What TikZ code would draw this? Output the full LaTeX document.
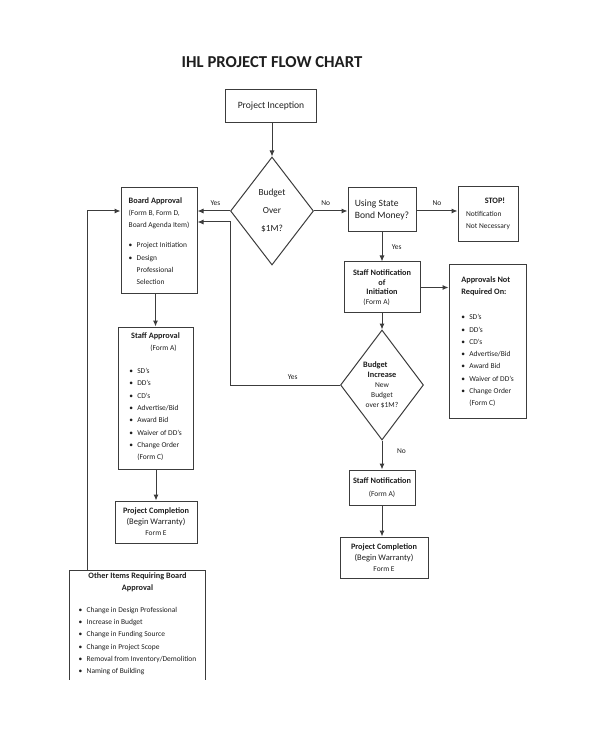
\documentclass[tikz,border=0pt]{standalone}
\usepackage{fontspec}
\setmainfont{Carlito}
\usetikzlibrary{arrows.meta,shapes.geometric}

\definecolor{linegray}{HTML}{3C3C3C}
\definecolor{inkgray}{HTML}{1E1E1E}
\newcommand\itm{\makebox[6pt][l]{\textbullet}}
\newcommand\blist[1]{\begin{tabular}[t]{@{}l@{}}#1\end{tabular}}
\newcommand\head[1]{{\bfseries\fontsize{6.2}{8}\selectfont #1}}

\tikzset{
  box/.style 2 args={draw=linegray, line width=0.75pt, inner sep=0pt,
    minimum width=#1*0.75pt, minimum height=#2*0.75pt,
    text=inkgray, font=\fontsize{5.6}{9.2}\selectfont, align=center},
  dia/.style 2 args={draw=linegray, line width=0.75pt, diamond, inner sep=0pt,
    minimum width=#1*0.75pt, minimum height=#2*0.75pt},
  arr/.style={draw=linegray, line width=0.75pt, -{Latex[length=4.5pt,width=3.8pt]}},
  lbl/.style={text=inkgray, font=\fontsize{5.6}{6}\selectfont, inner sep=1pt}
}

\begin{document}
\begin{tikzpicture}[x=0.75pt, y=-0.75pt]
\useasboundingbox (0,0) rectangle (600,730);

\node[text=inkgray, font=\bfseries\fontsize{12.5}{14}\selectfont] (title) at (272,62) {IHL PROJECT FLOW CHART};

% top row
\node[box={91}{33}, font=\fontsize{7.2}{9}\selectfont] (incep) at (271,106.5) {Project Inception};
\node[dia={83}{108}] (d1) at (272,211) {};
\node[text=inkgray, align=center, font=\fontsize{7}{13.5}\selectfont] (d1txt) at (d1) {Budget\\Over\\\$1M?};
\node[box={68}{44}, align=left, font=\fontsize{7.2}{9}\selectfont] (bond) at (382,210) {Using State\\Bond Money?};
\node[box={60}{55}, align=left] (stop) at (488,214) {\hspace*{14pt}\head{STOP!}\\Notification\\Not Necessary};

% left column
\node[box={76}{106}, align=left] (board) at (159,241)
  {\head{Board Approval}\\(Form B, Form D,\\Board Agenda Item)\\[6pt]
   \itm Project Initiation\\\itm Design\\\hspace*{6pt}Professional\\\hspace*{6pt}Selection};
\node[box={75}{142}] (staffa) at (155.5,398)
  {\head{Staff Approval}\\\hspace*{12pt}(Form A)\\[8pt]
   \blist{\itm SD's\\\itm DD's\\\itm CD's\\\itm Advertise/Bid\\\itm Award Bid\\\itm Waiver of DD's\\\itm Change Order\\\hspace*{6pt}(Form C)}};
\node[box={82}{42}, font=\fontsize{5.6}{8.2}\selectfont] (compl) at (156,522)
  {\head{Project Completion}\\{\fontsize{6.4}{8.2}\selectfont (Begin Warranty)}\\Form E};
\node[box={135}{108}, draw=none] (other) at (137.5,625)
  {\head{Other Items Requiring Board}\\\head{Approval}\\[7pt]
   \blist{\itm Change in Design Professional\\\itm Increase in Budget\\\itm Change in Funding Source\\\itm Change in Project Scope\\\itm Removal from Inventory/Demolition\\\itm Naming of Building}};
\draw[linegray, line width=0.75pt] (other.south west) -- (other.north west) -- (other.north east) -- (other.south east);
\coordinate (otherup) at (87,571);

% right column
\node[box={76}{51}, font=\bfseries\fontsize{6.2}{7.3}\selectfont] (sni) at (382,287.5)
  {Staff Notification\\of\\Initiation\\{\mdseries\fontsize{5.6}{8}\selectfont (Form A)\hspace*{8pt}}};
\node[box={77}{153}, align=left] (notreq) at (487.5,341.5)
  {\head{Approvals Not}\\\head{Required On:}\\[10pt]
   \itm SD's\\\itm DD's\\\itm CD's\\\itm Advertise/Bid\\\itm Award Bid\\\itm Waiver of DD's\\\itm Change Order\\\hspace*{6pt}(Form C)};
\node[dia={83}{110}] (d2) at (382,385) {};
\node[text=inkgray, align=center, font=\fontsize{5.6}{7.5}\selectfont] (d2txt) at (d2)
  {\head{Budget}\hspace*{10pt}\\\head{Increase}\hspace*{6pt}\\New\\Budget\\over \$1M?};
\node[box={66}{35}] (staffn) at (382,487.5) {\head{Staff Notification}\\(Form A)};
\node[box={88}{41}, font=\fontsize{5.6}{8.2}\selectfont] (compr) at (384,557.5)
  {\head{Project Completion}\\{\fontsize{6.4}{8.2}\selectfont (Begin Warranty)}\\Form E};
\coordinate (loopbk) at (230,222);

% connectors
\draw[arr] (d1.north |- incep.south) -- (d1.north);
\draw[arr] (d1.west) -- node[lbl, above=3pt, pos=0.45] {Yes} (d1.west -| board.east);
\draw[arr] (d1.east) -- node[lbl, above=3pt, pos=0.35] {No} (d1.east -| bond.west);
\draw[arr] (bond.east |- d1.east) -- node[lbl, above=3pt] {No} (d1.east -| stop.west);
\draw[arr] (bond.south) -- node[lbl, right=6pt] {Yes} (sni.north);
\draw[arr] (sni.east) -- (sni.east -| notreq.west);
\draw[arr] (sni.south) -- (d2.north);
\draw[arr] (d2.south) -- node[lbl, right=10pt, pos=0.35] {No} (staffn.north);
\draw[arr] (staffn.south) -- (staffn.south |- compr.north);
\draw[arr] (d2.west) -- node[lbl, above=3pt, pos=0.43] {Yes} (d2.west -| loopbk) -- (loopbk) -- (loopbk -| board.east);
\draw[arr] (staffa.north |- board.south) -- (staffa.north);
\draw[arr] (staffa.south -| compl.north) -- (compl.north);
\draw[arr] (otherup) |- (board.west |- d1.west);
\end{tikzpicture}
\end{document}
